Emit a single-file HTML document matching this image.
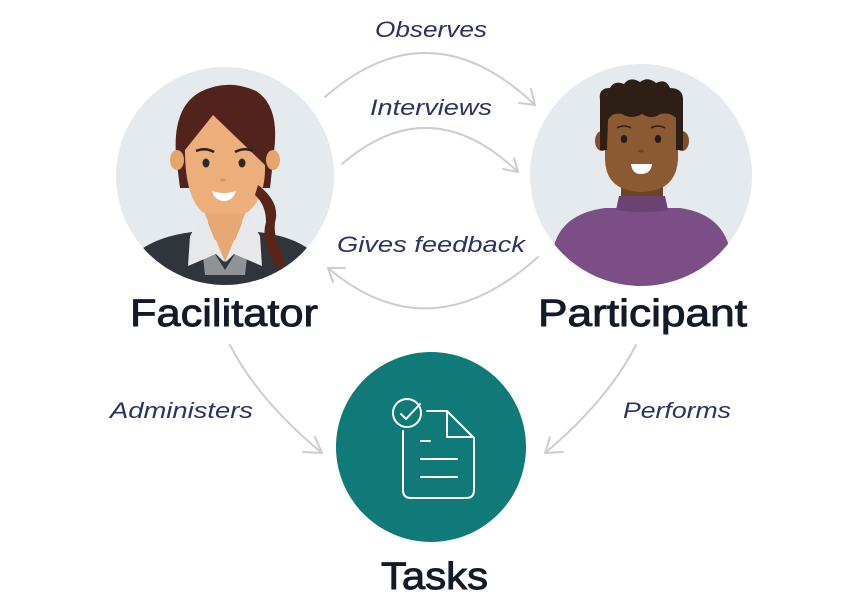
<!DOCTYPE html>
<html><head><meta charset="utf-8">
<style>
html,body{margin:0;padding:0;background:#fff;}
svg{display:block;}
.lbl{font-family:"Liberation Sans",sans-serif;font-style:italic;font-size:22px;fill:#2b3263;}
.hd{font-family:"Liberation Sans",sans-serif;font-weight:normal;font-size:38px;fill:#131a2a;stroke:#131a2a;stroke-width:0.9px;}
.arc{fill:none;stroke:#cdcdcd;stroke-width:2;stroke-linecap:round;stroke-linejoin:round;}
</style></head>
<body>
<svg width="861" height="601" viewBox="0 0 861 601" xmlns="http://www.w3.org/2000/svg">
<defs>
<clipPath id="cf"><circle cx="225" cy="176" r="109"/></clipPath>
<clipPath id="cp"><circle cx="641" cy="175" r="111"/></clipPath>
</defs>

<!-- Facilitator -->
<circle cx="225" cy="176" r="109" fill="#e4eaee"/>
<g clip-path="url(#cf)">
  <path d="M178,172 Q168,110 200,92 Q228,78 256,91 Q280,106 274,152 L270,188 L180,188 Z" fill="#52231c"/>
  <ellipse cx="177" cy="160" rx="7" ry="10" fill="#e6a46f"/>
  <ellipse cx="273" cy="160" rx="7" ry="10" fill="#e6a46f"/>
  <rect x="208" y="195" width="34" height="45" fill="#e2a06c"/>
  <path d="M185,150 L213,115 L265,165 Q266,200 245,214 Q225,226 205,214 Q185,200 185,150 Z" fill="#ecae7a"/>
  <path d="M140,250 Q160,236 192,232 L225,262 L258,232 Q292,236 310,250 L320,300 L130,300 Z" fill="#2f353b"/>
  <path d="M200,230 L225,270 L250,230 L245,275 L205,275 Z" fill="#8f9396"/>
  <path d="M205,214 L245,214 L225,262 Z" fill="#e8a873"/>
  <path d="M204,212 L190,236 L188,266 L216,254 L224,262 L210,228 Z" fill="#e6e8ea"/>
  <path d="M246,212 L260,236 L262,266 L234,254 L226,262 L240,228 Z" fill="#e6e8ea"/>
  <path d="M258,185 Q278,200 276,218 Q272,232 280,248 Q286,262 282,272 Q272,262 268,250 Q262,236 266,222 Q266,205 255,195 Z" fill="#5a2519"/>
  <path d="M196,151 Q205,147 214,152" stroke="#2b2220" stroke-width="2.5" fill="none"/>
  <path d="M235,152 Q244,147 253,151" stroke="#2b2220" stroke-width="2.5" fill="none"/>
  <ellipse cx="206" cy="163" rx="3.5" ry="4.5" fill="#2b2a2c"/>
  <ellipse cx="242" cy="163" rx="3.5" ry="4.5" fill="#2b2a2c"/>
  <ellipse cx="223" cy="180" rx="3" ry="1.5" fill="#d99469"/>
  <path d="M212,191 Q224,195 236,191 Q233,201 224,201 Q215,201 212,191 Z" fill="#fff"/>
</g>

<!-- Participant -->
<circle cx="641" cy="175" r="111" fill="#e4eaee"/>
<g clip-path="url(#cp)">
  <path d="M553,250 Q560,214 605,208 L680,208 Q722,214 730,250 L745,300 L540,300 Z" fill="#7b4f85"/>
  <rect x="621" y="178" width="42" height="22" fill="#6d4327"/>
  <path d="M619,196 L665,196 L668,210 Q641,214 616,210 Z" fill="#6a4273"/>
  <ellipse cx="602" cy="141" rx="7" ry="10" fill="#7e4f2c"/>
  <ellipse cx="682" cy="141" rx="7" ry="10" fill="#7e4f2c"/>
  <path d="M605,110 L678,110 L678,160 Q676,185 655,190 Q641,194 628,190 Q606,185 605,160 Z" fill="#8b5a33"/>
  <path d="M600,150 L600,100 Q598,88 610,88 Q614,80 624,84 Q630,76 640,82 Q648,76 656,83 Q666,78 670,88 Q684,88 683,102 L683,150 L676,150 L676,118 Q670,112 660,114 Q652,120 642,114 Q632,120 622,114 Q612,112 608,120 L607,150 Z" fill="#2e1f16"/>
  <path d="M617,128 Q624,124 631,128" stroke="#2e1f16" stroke-width="1.5" fill="none"/>
  <path d="M651,128 Q658,124 665,128" stroke="#2e1f16" stroke-width="1.5" fill="none"/>
  <ellipse cx="624" cy="139" rx="3.2" ry="4" fill="#1f1d22"/>
  <ellipse cx="658" cy="139" rx="3.2" ry="4" fill="#1f1d22"/>
  <ellipse cx="641" cy="151" rx="3" ry="1.5" fill="#6d4327"/>
  <path d="M631,164 L652,164 Q651,174 641,174 Q632,174 631,164 Z" fill="#fff"/>
</g>

<!-- arcs -->
<path class="arc" d="M325,97 Q430,5 535,105"/>
<path class="arc" d="M531,89 L535,105 L519,103"/>
<path class="arc" d="M342,164 Q430,88 518,172"/>
<path class="arc" d="M514,158 L518,172 L503,169"/>
<path class="arc" d="M538,257 Q430,354 328,268"/>
<path class="arc" d="M345,268 L328,268 L333,282"/>
<path class="arc" d="M230,345 Q258,400 322,453"/>
<path class="arc" d="M315,437 L322,453 L303,452"/>
<path class="arc" d="M636,345 Q608,400 545,453"/>
<path class="arc" d="M550,437 L545,453 L563,452"/>

<!-- labels -->
<text class="lbl" x="375" y="37" textLength="112" lengthAdjust="spacingAndGlyphs">Observes</text>
<text class="lbl" x="370" y="115" textLength="122" lengthAdjust="spacingAndGlyphs">Interviews</text>
<text class="lbl" x="337" y="252" textLength="188" lengthAdjust="spacingAndGlyphs">Gives feedback</text>
<text class="lbl" x="110" y="418" textLength="143" lengthAdjust="spacingAndGlyphs">Administers</text>
<text class="lbl" x="623" y="418" textLength="108" lengthAdjust="spacingAndGlyphs">Performs</text>

<text class="hd" x="130" y="326" textLength="188" lengthAdjust="spacingAndGlyphs">Facilitator</text>
<text class="hd" x="538" y="326" textLength="209" lengthAdjust="spacingAndGlyphs">Participant</text>

<!-- Tasks -->
<circle cx="431" cy="447" r="95" fill="#0f7a78"/>
<g fill="none" stroke="#fff" stroke-width="2" stroke-linecap="round" stroke-linejoin="round">
  <circle cx="407" cy="413" r="14"/>
  <path d="M401,414 L406,419 L420,404"/>
  <path d="M427,411 L447,411 L474,438 L474,490 Q474,498 466,498 L411,498 Q403,498 403,490 L403,431"/>
  <path d="M447,412 L447,437 L473,437"/>
  <path d="M421,441 L430,441"/>
  <path d="M421,459 L457,459"/>
  <path d="M421,477 L457,477"/>
</g>
<text class="hd" x="381" y="589" textLength="107" lengthAdjust="spacingAndGlyphs">Tasks</text>
</svg>
</body></html>
